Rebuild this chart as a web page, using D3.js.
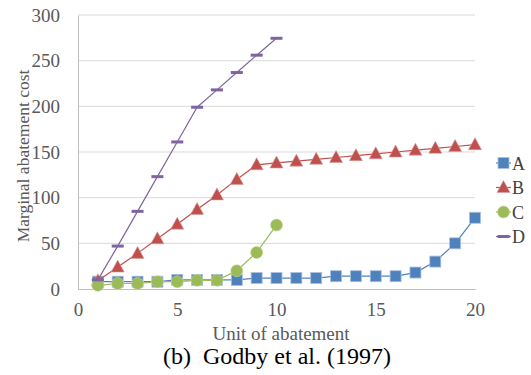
<!DOCTYPE html>
<html>
<head>
<meta charset="utf-8">
<script src="https://cdn.jsdelivr.net/npm/d3@7"></script>
<style>
  html, body { margin: 0; padding: 0; background: #fff; }
  svg { display: block; }
  text { font-family: "Liberation Serif", "DejaVu Serif", serif; }
</style>
</head>
<body>
<svg id="chart" width="531" height="375"></svg>
<script>
// Marginal abatement cost per unit of abatement, four firms
const unitsA = d3.range(1, 21);
const costA = [8, 8, 8, 8, 10, 10, 10, 10, 12, 12, 12, 12, 14, 14, 14, 14, 18, 30, 50, 78];
const unitsB = d3.range(1, 21);
const costB = [9, 24, 39, 55, 71, 87, 103, 120, 136, 138, 140, 142, 144, 146, 148, 150, 152, 154, 156, 158];
const unitsC = d3.range(1, 11);
const costC = [4, 6, 6, 8, 8, 9.5, 9.5, 20, 40, 70];
const unitsD = d3.range(1, 11);
const costD = [10, 47, 85, 123, 161, 199, 218, 237, 256, 274.5];

const seriesNames = ["A", "B", "C", "D"];
const xTicks = [0, 5, 10, 15, 20];
const yTicks = [0, 50, 100, 150, 200, 250, 300];
const xTitle = "Unit of abatement";
const yTitle = "Marginal abatement cost";
const caption = "(b)  Godby et al. (1997)";

const colors = { A: "#4f81bd", B: "#c0504d", C: "#9bbb59", D: "#8064a2" };

const svg = d3.select("#chart");
const plot = { left: 78, right: 475, top: 15, bottom: 289 };

const x = d3.scaleLinear().domain([0, 20]).range([plot.left, plot.right]);
const y = d3.scaleLinear().domain([0, 300]).range([plot.bottom, plot.top]);

// horizontal gridlines
svg.append("g")
  .selectAll("line")
  .data(yTicks.filter(v => v > 0))
  .join("line")
  .attr("x1", plot.left).attr("x2", plot.right)
  .attr("y1", d => y(d)).attr("y2", d => y(d))
  .attr("stroke", "#d9d9d9").attr("stroke-width", 1);

// axes
const xAxis = svg.append("g")
  .attr("transform", `translate(0,${plot.bottom})`)
  .call(d3.axisBottom(x).tickValues(xTicks).tickSize(0).tickPadding(14));
const yAxis = svg.append("g")
  .attr("transform", `translate(${plot.left},0)`)
  .call(d3.axisLeft(y).tickValues(yTicks).tickSize(0).tickPadding(18));
[xAxis, yAxis].forEach(g => {
  g.select(".domain").attr("stroke", "#bfbfbf").attr("stroke-width", 1);
  g.selectAll("text")
    .attr("fill", "#595959")
    .style("font-family", "'Liberation Serif', serif")
    .style("font-size", "19px");
});

// axis titles and caption
svg.append("text")
  .attr("x", 281).attr("y", 340)
  .attr("text-anchor", "middle")
  .attr("fill", "#595959")
  .style("font-size", "19px")
  .text(xTitle);
svg.append("text")
  .attr("transform", `translate(29,${156}) rotate(-90)`)
  .attr("text-anchor", "middle")
  .attr("fill", "#595959")
  .style("font-size", "17.5px")
  .text(yTitle);
svg.append("text")
  .attr("x", 277).attr("y", 364)
  .attr("text-anchor", "middle")
  .attr("fill", "#000")
  .style("font-size", "24px")
  .style("white-space", "pre")
  .attr("xml:space", "preserve")
  .text(caption);

const series = [
  { name: "A", units: unitsA, cost: costA },
  { name: "B", units: unitsB, cost: costB },
  { name: "C", units: unitsC, cost: costC },
  { name: "D", units: unitsD, cost: costD }
];

const line = d3.line().x(d => x(d[0])).y(d => y(d[1]));

function drawMarker(g, name, cx, cy) {
  const c = colors[name];
  if (name === "A") {
    g.append("rect")
      .attr("x", cx - 5.5).attr("y", cy - 5.5)
      .attr("width", 11).attr("height", 11)
      .attr("fill", c).attr("stroke", "#a7c0de").attr("stroke-width", 0.8);
  } else if (name === "B") {
    g.append("path")
      .attr("d", `M${cx},${cy - 7}L${cx + 6.5},${cy + 5}L${cx - 6.5},${cy + 5}Z`)
      .attr("fill", c).attr("stroke", "#d89c9a").attr("stroke-width", 0.6);
  } else if (name === "C") {
    g.append("circle")
      .attr("cx", cx).attr("cy", cy).attr("r", 6)
      .attr("fill", c).attr("stroke", "#c3d69b").attr("stroke-width", 0.6);
  } else {
    g.append("rect")
      .attr("x", cx - 6).attr("y", cy - 1.5)
      .attr("width", 12).attr("height", 3)
      .attr("fill", c);
  }
}

series.forEach(s => {
  const pts = s.units.map((u, i) => [u, s.cost[i]]);
  const g = svg.append("g");
  g.append("path")
    .attr("d", line(pts))
    .attr("fill", "none")
    .attr("stroke", colors[s.name])
    .attr("stroke-width", 1.2);
  pts.forEach(p => drawMarker(g, s.name, x(p[0]), y(p[1])));
});

// legend
const legend = svg.append("g");
seriesNames.forEach((n, i) => {
  const ly = 163 + i * 24.5;
  legend.append("line")
    .attr("x1", 496).attr("x2", 511)
    .attr("y1", ly).attr("y2", ly)
    .attr("stroke", colors[n]).attr("stroke-width", 1.2);
  drawMarker(legend, n, 503.5, ly);
  legend.append("text")
    .attr("x", 512).attr("y", ly + 6.5)
    .attr("fill", "#404040")
    .style("font-size", "18px")
    .text(n);
});
</script>
</body>
</html>
